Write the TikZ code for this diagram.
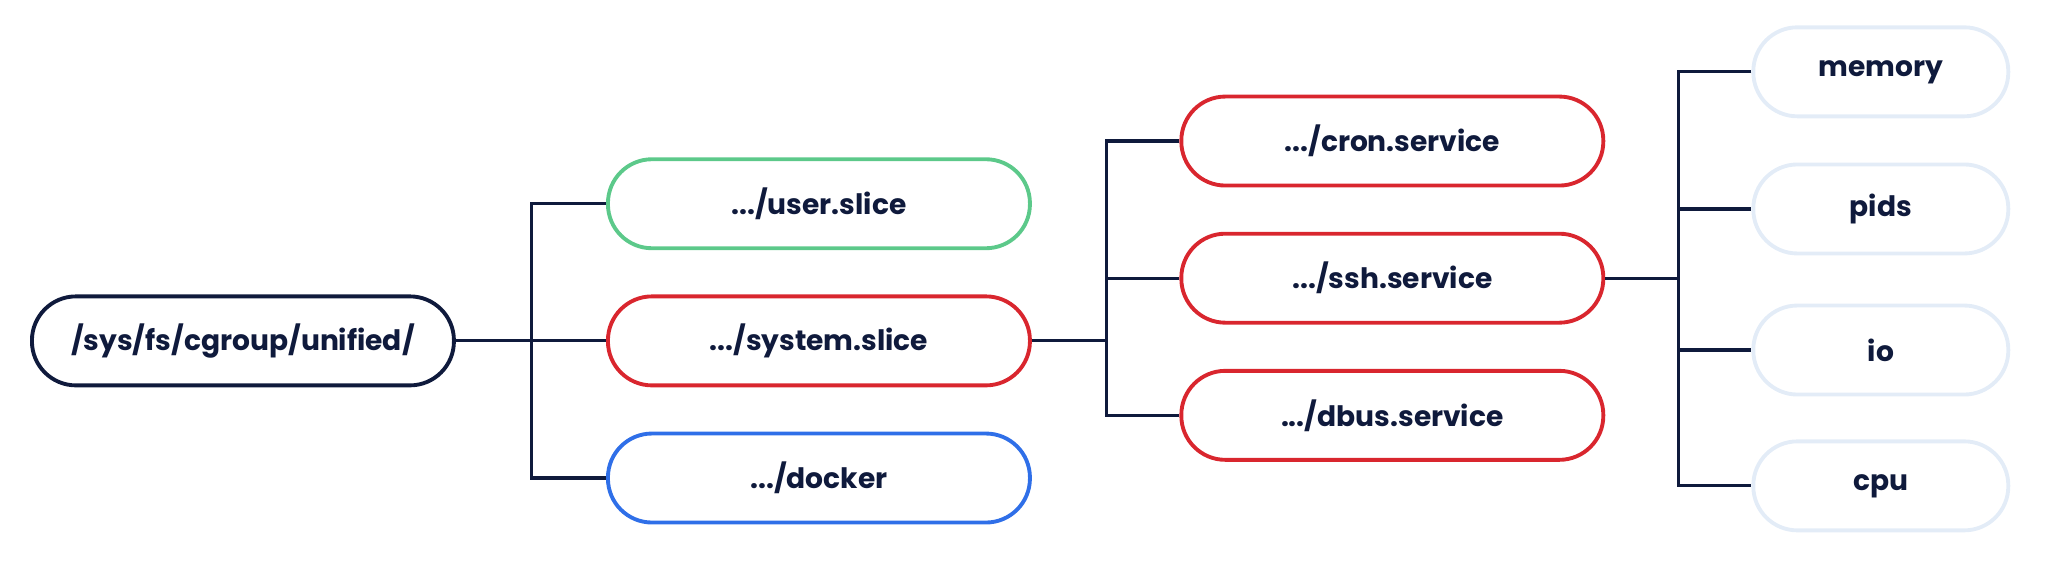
\documentclass[tikz,border=0pt]{standalone}
\usepackage{fontspec}
\setmainfont{Poppins}
\usetikzlibrary{positioning}

\definecolor{navy}{HTML}{0F1A3C}
\definecolor{cgreen}{HTML}{5CC98A}
\definecolor{cred}{HTML}{D9262E}
\definecolor{cblue}{HTML}{2F6FE8}
\definecolor{cpale}{HTML}{E3ECF7}

\tikzset{
  box/.style={draw, rounded corners=4.4mm, line width=1.1pt, minimum width=4.22cm,
    minimum height=0.89cm, text=navy, font=\fontsize{8}{9}\selectfont\bfseries},
  res/.style={box, draw=cpale, minimum width=2.55cm},
  link/.style={draw=navy, line width=0.9pt}
}

\begin{document}
\begin{tikzpicture}[x=0.01306cm,y=-0.01306cm]

  % Frame
  \useasboundingbox (0,0) rectangle (1568,435.7);

  % Root
  \node[box, draw=navy] (root) at (186,261) {/sys/fs/cgroup/unified/};

  % Slices
  \node[box, draw=cgreen] (user)   at (627,156) {.../user.slice};
  \node[box, draw=cred]   (system) at (627,261) {.../system.slice};
  \node[box, draw=cblue]  (docker) at (627,366) {.../docker};

  % Services
  \node[box, draw=cred] (cron) at (1066,108) {.../cron.service};
  \node[box, draw=cred] (ssh)  at (1066,213) {.../ssh.service};
  \node[box, draw=cred] (dbus) at (1066,318) {.../dbus.service};

  % Controllers
  \node[res] (memory) at (1440,55)  {memory};
  \node[res] (pids)   at (1440,160) {pids};
  \node[res] (io)     at (1440,268) {io};
  \node[res] (cpu)    at (1440,372) {cpu};

  % Connectors
  \draw[link] (root.east) -- (system.west);
  \draw[link] (user.west) -| (407,261) |- (docker.west);

  \draw[link] (system.east) -- (847,261);
  \draw[link] (cron.west) -| (847,261) |- (dbus.west);
  \draw[link] (847,213) -- (ssh.west);

  \draw[link] (ssh.east) -- (1285,213);
  \draw[link] (memory.west) -| (1285,213) |- (cpu.west);
  \draw[link] (1285,160) -- (pids.west);
  \draw[link] (1285,268) -- (io.west);

\end{tikzpicture}
\end{document}
